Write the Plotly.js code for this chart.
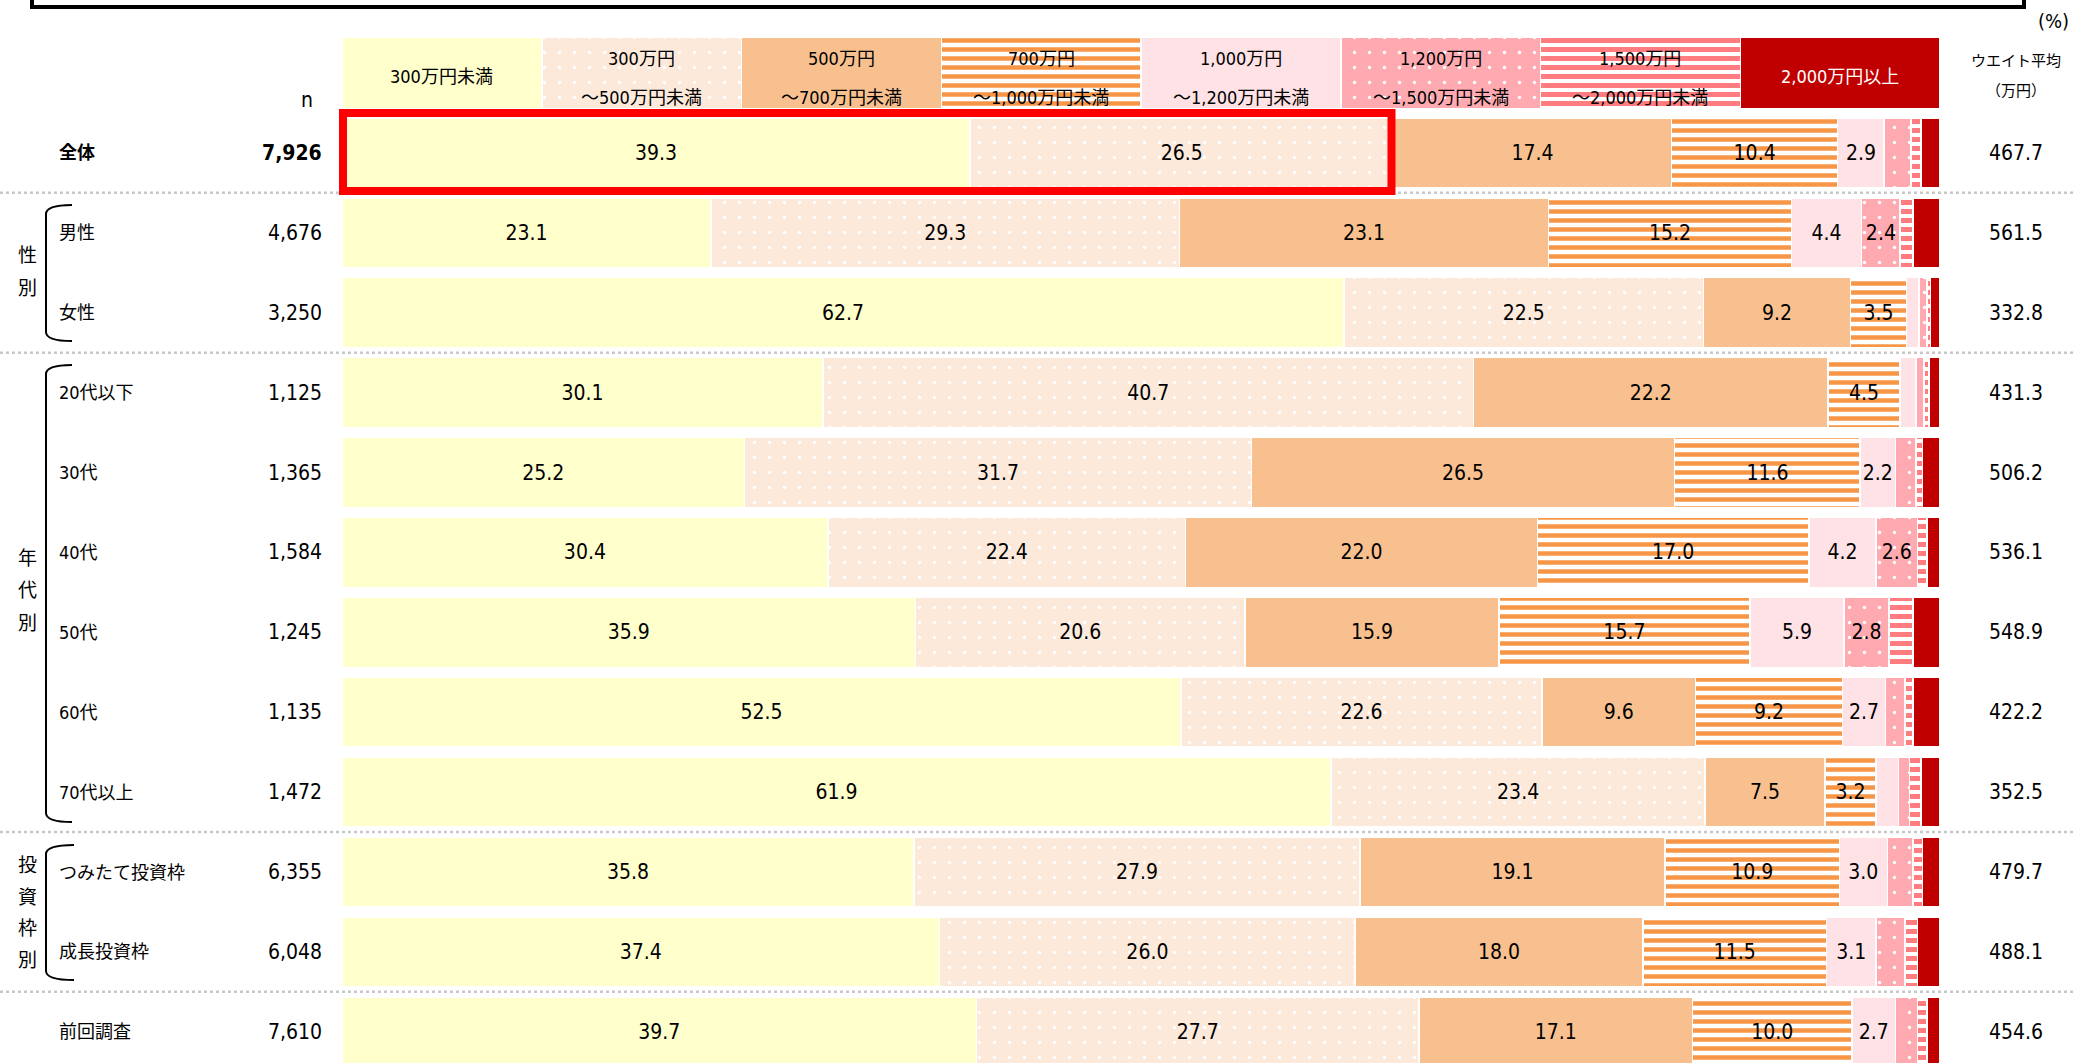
<!DOCTYPE html>
<html>
<head>
<meta charset="utf-8">
<script src="https://cdn.plot.ly/plotly-3.0.1.min.js"></script>
<style>
html,body{margin:0;padding:0;background:#fff;}
#chart{width:2073px;height:1063px;}
</style>
</head>
<body>
<div id="chart"></div>
<script>
// ---------------- DATA ----------------
const rowLabels = ['全体','男性','女性','20代以下','30代','40代','50代','60代','70代以上','つみたて投資枠','成長投資枠','前回調査'];
const nValues = [7926,4676,3250,1125,1365,1584,1245,1135,1472,6355,6048,7610];
const avgValues = [467.7,561.5,332.8,431.3,506.2,536.1,548.9,422.2,352.5,479.7,488.1,454.6];

const seriesNames = ['300万円未満','300万円～500万円未満','500万円～700万円未満','700万円～1,000万円未満',
  '1,000万円～1,200万円未満','1,200万円～1,500万円未満','1,500万円～2,000万円未満','2,000万円以上'];
const headerLines = [['300万円未満'],['300万円','～500万円未満'],['500万円','～700万円未満'],['700万円','～1,000万円未満'],
  ['1,000万円','～1,200万円未満'],['1,200万円','～1,500万円未満'],['1,500万円','～2,000万円未満'],['2,000万円以上']];
const headerShare = [12.5,12.5,12.5,12.5,12.5,12.5,12.5,12.5];

const s1 = [39.3,23.1,62.7,30.1,25.2,30.4,35.9,52.5,61.9,35.8,37.4,39.7];
const s2 = [26.5,29.3,22.5,40.7,31.7,22.4,20.6,22.6,23.4,27.9,26.0,27.7];
const s3 = [17.4,23.1,9.2,22.2,26.5,22.0,15.9,9.6,7.5,19.1,18.0,17.1];
const s4 = [10.4,15.2,3.5,4.5,11.6,17.0,15.7,9.2,3.2,10.9,11.5,10.0];
const s5 = [2.9,4.4,0.8,1.0,2.2,4.2,5.9,2.7,1.4,3.0,3.1,2.7];
const s6 = [1.7,2.4,0.5,0.5,1.3,2.6,2.8,1.2,0.7,1.6,1.8,1.4];
const s7 = [0.6,0.8,0.2,0.3,0.4,0.6,1.5,0.5,0.7,0.6,0.8,0.6];
const s8 = [1.2,1.7,0.6,0.7,1.1,0.8,1.7,1.7,1.2,1.1,1.4,0.8];
const series = [s1,s2,s3,s4,s5,s6,s7,s8];

// ---------------- STYLE ----------------
const FONT = '"Liberation Sans Narrow", "DejaVu Sans Condensed", "Noto Sans CJK JP", sans-serif';
const styles = [
  {color:'#FFFFCC'},
  {color:'#FDE9DA', pattern:{shape:'.', bgcolor:'#FDE9DA', fgcolor:'#FFFFFF', size:15, solidity:0.04}},
  {color:'#F9C08F'},
  {color:'#F79646', pattern:{shape:'-', bgcolor:'#FFFFFF', fgcolor:'#F79646', size:9, solidity:0.5}},
  {color:'#FFE2E5'},
  {color:'#FFAAB0', pattern:{shape:'.', bgcolor:'#FFAAB0', fgcolor:'#FFFFFF', size:15, solidity:0.04}},
  {color:'#FF7C80', pattern:{shape:'-', bgcolor:'#FFFFFF', fgcolor:'#FF7C80', size:9, solidity:0.55}},
  {color:'#C00000'}
];

const W = 2073, H = 1063, L = 342, R = 1940;
const X = px => (px - L) / (R - L);
const Y = py => 1 - py / H;

const yIdx = [0].concat(rowLabels.map((_, i) => i + 1));
const widths = [0.89].concat(rowLabels.map(() => 0.876));

const traces = series.map((s, k) => ({
  type: 'bar',
  orientation: 'h',
  name: seriesNames[k],
  y: yIdx,
  x: [headerShare[k]].concat(s),
  width: widths,
  text: [''].concat(s.map(v => v >= 2 ? v.toFixed(1) : '')),
  texttemplate: '%{text}',
  textposition: 'inside',
  insidetextanchor: 'middle',
  textangle: 0,
  constraintext: 'none',
  textfont: {family: FONT, size: 21, color: '#000'},
  marker: Object.assign({line: {color: '#FFFFFF', width: 1.5}}, styles[k]),
  hoverinfo: 'skip',
  showlegend: false
}));

function ann(o) {
  return Object.assign({showarrow: false, xanchor: 'center', yanchor: 'middle'}, o);
}

const annotations = [];
// header labels
let cum = 0;
headerLines.forEach((lines, k) => {
  const cx = cum + headerShare[k] / 2;
  cum += headerShare[k];
  const col = k === 7 ? '#FFFFFF' : '#000000';
  const ys = lines.length === 1 ? [77] : [58, 98];
  lines.forEach((t, j) => annotations.push(ann({
    xref: 'x', yref: 'paper', x: cx, y: Y(ys[j]), text: t,
    font: {family: FONT, size: 18, color: col}
  })));
});
// n header, avg header, (%)
annotations.push(ann({xref:'paper', yref:'paper', x:X(307), y:Y(100), text:'n', font:{family:FONT,size:21,color:'#000'}}));
annotations.push(ann({xref:'paper', yref:'paper', x:X(2016), y:Y(61), text:'ウエイト平均', font:{family:FONT,size:15,color:'#000'}}));
annotations.push(ann({xref:'paper', yref:'paper', x:X(2016), y:Y(91), text:'（万円）', font:{family:FONT,size:15,color:'#000'}}));
annotations.push(ann({xref:'paper', yref:'paper', x:X(2071), y:Y(21), text:'(%)', xanchor:'right', font:{family:FONT,size:20,color:'#000'}}));

// row labels, n, avg
rowLabels.forEach((lab, i) => {
  const bold = i === 0;
  annotations.push(ann({xref:'paper', yref:'y', x:X(57), y:i+1, text: bold ? '<b>'+lab+'</b>' : lab, xanchor:'left',
    font:{family:FONT, size:18, color:'#000'}}));
  const nTxt = nValues[i].toLocaleString('en-US');
  annotations.push(ann({xref:'paper', yref:'y', x:X(324), y:i+1, text: bold ? '<b>'+nTxt+'</b>' : nTxt, xanchor:'right',
    font:{family:FONT, size:21, color:'#000'}}));
  annotations.push(ann({xref:'paper', yref:'y', x:X(2016), y:i+1, text: avgValues[i].toFixed(1),
    font:{family:FONT, size:21, color:'#000'}}));
});

// vertical group labels
const groupChars = [
  ['性',255],['別',288],
  ['年',558],['代',590],['別',623],
  ['投',865],['資',897],['枠',928],['別',960]
];
groupChars.forEach(([c, py]) => annotations.push(ann({xref:'paper', yref:'paper', x:X(27), y:Y(py), text:c,
  font:{family:FONT, size:19, color:'#000'}})));

// shapes
const shapes = [];
// title box (partially visible)
shapes.push({type:'rect', xref:'paper', yref:'paper', x0:X(32), x1:X(2024), y0:Y(-20), y1:Y(7), line:{color:'#000', width:4}, fillcolor:'rgba(0,0,0,0)'});
// separators
[1.5, 3.5, 9.5, 11.5].forEach(yv => shapes.push({type:'line', xref:'paper', yref:'y', x0:X(0), x1:X(W), y0:yv, y1:yv,
  line:{color:'#C8C8C8', width:2.5, dash:'dot'}}));
// brackets
function bracket(top, bot, xr) {
  const xl = 46, r = 9;
  return {type:'path', xref:'paper', yref:'paper',
    path: `M ${X(xr)} ${Y(top)} Q ${X(xl)} ${Y(top)} ${X(xl)} ${Y(top + r)} L ${X(xl)} ${Y(bot - r)} Q ${X(xl)} ${Y(bot)} ${X(xr)} ${Y(bot)}`,
    line:{color:'#000', width:2}};
}
shapes.push(bracket(205, 341, 72));
shapes.push(bracket(365, 822, 72));
shapes.push(bracket(845, 980, 74));
// red highlight box around first two segments of 全体
const hiEnd = L + (s1[0] + s2[0]) / 100 * (R - L);
shapes.push({type:'rect', xref:'paper', yref:'paper', x0:X(L + 1), x1:X(hiEnd - 2), y0:Y(113), y1:Y(191),
  line:{color:'#FF0000', width:8}, fillcolor:'rgba(0,0,0,0)'});

const pxPerRow = 79.9, headerCenter = 73;
const layout = {
  width: W, height: H,
  margin: {l: L, r: W - R, t: 0, b: 0, pad: 0},
  paper_bgcolor: '#FFFFFF', plot_bgcolor: '#FFFFFF',
  barmode: 'stack',
  showlegend: false,
  font: {family: FONT, color: '#000'},
  xaxis: {range: [0, 100], visible: false, fixedrange: true},
  yaxis: {range: [(H - headerCenter) / pxPerRow, -headerCenter / pxPerRow], visible: false, fixedrange: true},
  annotations: annotations,
  shapes: shapes
};

Plotly.newPlot('chart', traces, layout, {displayModeBar: false, staticPlot: true});
</script>
</body>
</html>
